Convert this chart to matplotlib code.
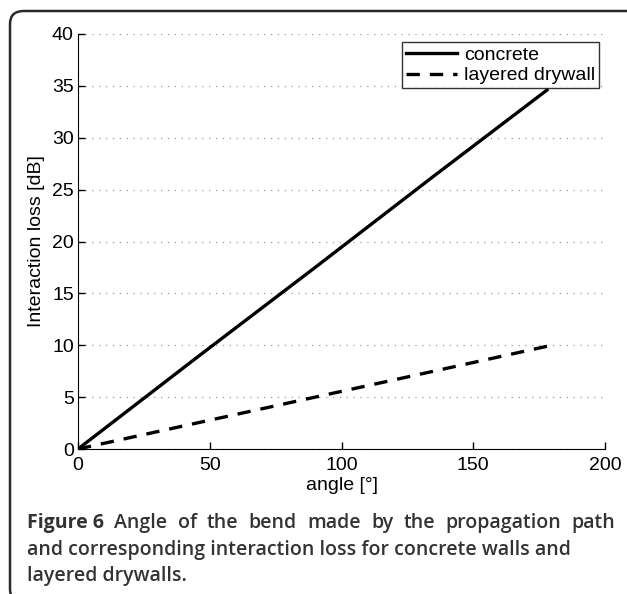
import matplotlib
matplotlib.use('Agg')
from matplotlib import pyplot as plt
from matplotlib.patches import FancyBboxPatch

# Data
angle = [0, 45, 90, 135, 178]
concrete = [0, 8.8, 17.5, 26.3, 34.6]
drywall = [0, 2.5, 5.0, 7.5, 9.9]

x_ticks = [0, 50, 100, 150, 200]
y_ticks = [0, 5, 10, 15, 20, 25, 30, 35, 40]

caption_bold = "Figure 6"
caption_first = "Angle of the bend made by the propagation path"
caption_rest = ["and corresponding interaction loss for concrete walls and",
                "layered drywalls."]


def main():
    plt.rcParams['font.family'] = ['Liberation Sans', 'DejaVu Sans']
    fig = plt.figure(figsize=(6.27, 5.94), dpi=100)
    W, H = 627, 594

    # rounded frame around the figure (right and bottom edges fall off the page)
    frame = FancyBboxPatch((10 / W, -8 / H), 640 / W, 591 / H,
                           boxstyle="round,pad=0,rounding_size=0.022",
                           transform=fig.transFigure, fill=False,
                           edgecolor='#2a2a2a', linewidth=1.8, clip_on=False)
    fig.patches.append(frame)

    ax = fig.add_axes([78 / W, 1 - 449 / H, 527 / W, 415 / H])
    ax.plot(angle, concrete, color='black', linestyle='-', linewidth=2.4, label='concrete')
    ax.plot(angle, drywall, color='black', linestyle=(0, (4, 3)), linewidth=2.4,
            label='layered drywall')

    ax.set_xlim(0, 200)
    ax.set_ylim(0, 40)
    ax.set_xticks(x_ticks)
    ax.set_yticks(y_ticks)
    ax.tick_params(direction='in', labelsize=14, length=5, width=1)
    ax.tick_params(axis='x', pad=6)
    ax.tick_params(axis='y', pad=3)
    ax.spines['top'].set_visible(False)
    ax.spines['right'].set_visible(False)
    ax.grid(True, axis='y', linestyle=(0, (1, 4.5)), color='#999999', linewidth=0.9)
    ax.set_xlabel('angle [°]', fontsize=14, labelpad=2)
    ax.set_ylabel('Interaction loss [dB]', fontsize=14, labelpad=5)

    leg = ax.legend(loc='upper right', fontsize=14, frameon=True, fancybox=False,
                    edgecolor='black', handlelength=2.6, handletextpad=0.35,
                    borderpad=0.2, labelspacing=0.15, borderaxespad=0.0,
                    bbox_to_anchor=(0.988, 0.98))
    leg.get_frame().set_linewidth(1.0)

    # caption: first line justified word by word
    cap_kw = dict(fontsize=14, color='#333333', family=['Open Sans', 'DejaVu Sans'],
                  va='center')
    x0, x1 = 27, 615
    y_lines = [523, 550, 576]
    renderer = fig.canvas.get_renderer()
    words = [(caption_bold, 'bold')] + [(w, 'semibold') for w in caption_first.split()]
    texts = [fig.text(0, 1 - y_lines[0] / H, w, weight=wt, **cap_kw) for w, wt in words]
    widths = [t.get_window_extent(renderer).width for t in texts]
    gap = (x1 - x0 - sum(widths)) / (len(words) - 1)
    x = x0
    for t, w in zip(texts, widths):
        t.set_x(x / W)
        x += w + gap
    for line, y in zip(caption_rest, y_lines[1:]):
        fig.text(x0 / W, 1 - y / H, line, weight='semibold', **cap_kw)

    plt.savefig("out.png", dpi=100)
    plt.close(fig)


if __name__ == "__main__":
    main()
